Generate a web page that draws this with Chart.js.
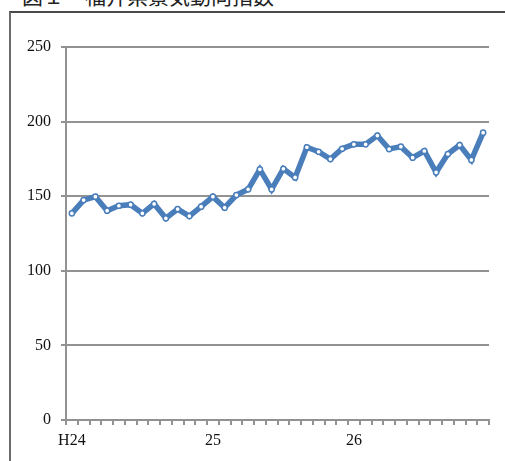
<!DOCTYPE html>
<html>
<head>
<meta charset="utf-8">
<script src="https://cdn.jsdelivr.net/npm/chart.js@4"></script>
<style>
  html, body { margin: 0; padding: 0; background: #fff; overflow: hidden; }
  #wrap { position: relative; width: 505px; height: 461px; }
  #title {
    position: absolute; left: 22px; top: -15px;
    font-family: "Noto Sans CJK JP", sans-serif; font-size: 21px; line-height: 21px;
    color: #222; white-space: pre;
  }
  #frame {
    position: absolute; left: 9px; top: 11px; right: -4px; bottom: -4px;
    border-left: 2px solid #6b6b6b; border-top: 2px solid #4a4a4a;
  }
  canvas { position: absolute; left: 0; top: 0; }
</style>
</head>
<body>
<div id="wrap">
  <div id="title">図１　福井県景気動向指数</div>
  <div id="frame"></div>
  <canvas id="c" width="505" height="461"></canvas>
</div>
<script>
// Monthly index, H24 Jan .. H26 Dec
const months = [
  'H24', '', '', '', '', '', '', '', '', '', '', '',
  '25', '', '', '', '', '', '', '', '', '', '', '',
  '26', '', '', '', '', '', '', '', '', '', '', ''
];
const indexValues = [
  138.5, 147.4, 149.7, 140.3, 143.6, 144.3, 138.5, 144.8, 135.2, 141.4, 136.7, 143.0,
  149.7, 142.3, 150.8, 154.6, 168.0, 154.6, 168.4, 162.6, 182.8, 179.8, 174.9, 181.8,
  184.8, 184.8, 190.6, 181.6, 183.2, 175.8, 180.3, 166.0, 178.3, 184.3, 174.3, 192.6
];
const yTicks = [0, 50, 100, 150, 200, 250];

const gridGray = '#929292';
const tickFont = { family: '"Liberation Serif", "DejaVu Serif", serif', size: 16 };

new Chart(document.getElementById('c'), {
  type: 'line',
  data: {
    labels: months,
    datasets: [{
      data: indexValues,
      borderColor: '#4A7EBB',
      borderWidth: 5.5,
      pointRadius: 2.6,
      pointBorderWidth: 1.5,
      pointBackgroundColor: '#ffffff',
      pointBorderColor: '#4A7EBB',
      tension: 0
    }]
  },
  options: {
    responsive: false,
    animation: false,
    devicePixelRatio: 1,
    layout: { padding: { left: 0, top: 47, right: 16, bottom: 0 } },
    plugins: { legend: { display: false }, tooltip: { enabled: false } },
    scales: {
      x: {
        type: 'category',
        offset: true,
        grid: {
          offset: true,
          drawOnChartArea: false,
          drawTicks: true,
          tickLength: 5,
          color: gridGray,
          lineWidth: 2
        },
        border: { display: true, color: gridGray, width: 2 },
        ticks: {
          autoSkip: false,
          maxRotation: 0,
          color: '#111',
          font: tickFont,
          padding: 6
        },
        afterFit: s => { s.height = 41; }
      },
      y: {
        min: 0,
        max: 250,
        afterBuildTicks: s => { s.ticks = yTicks.map(v => ({ value: v })); },
        grid: {
          color: gridGray,
          lineWidth: 2,
          drawTicks: true,
          tickLength: 5
        },
        border: { display: true, color: gridGray, width: 2 },
        ticks: {
          color: '#111',
          font: tickFont,
          padding: 10
        },
        afterFit: s => { s.width = 66; }
      }
    }
  }
});
</script>
</body>
</html>
